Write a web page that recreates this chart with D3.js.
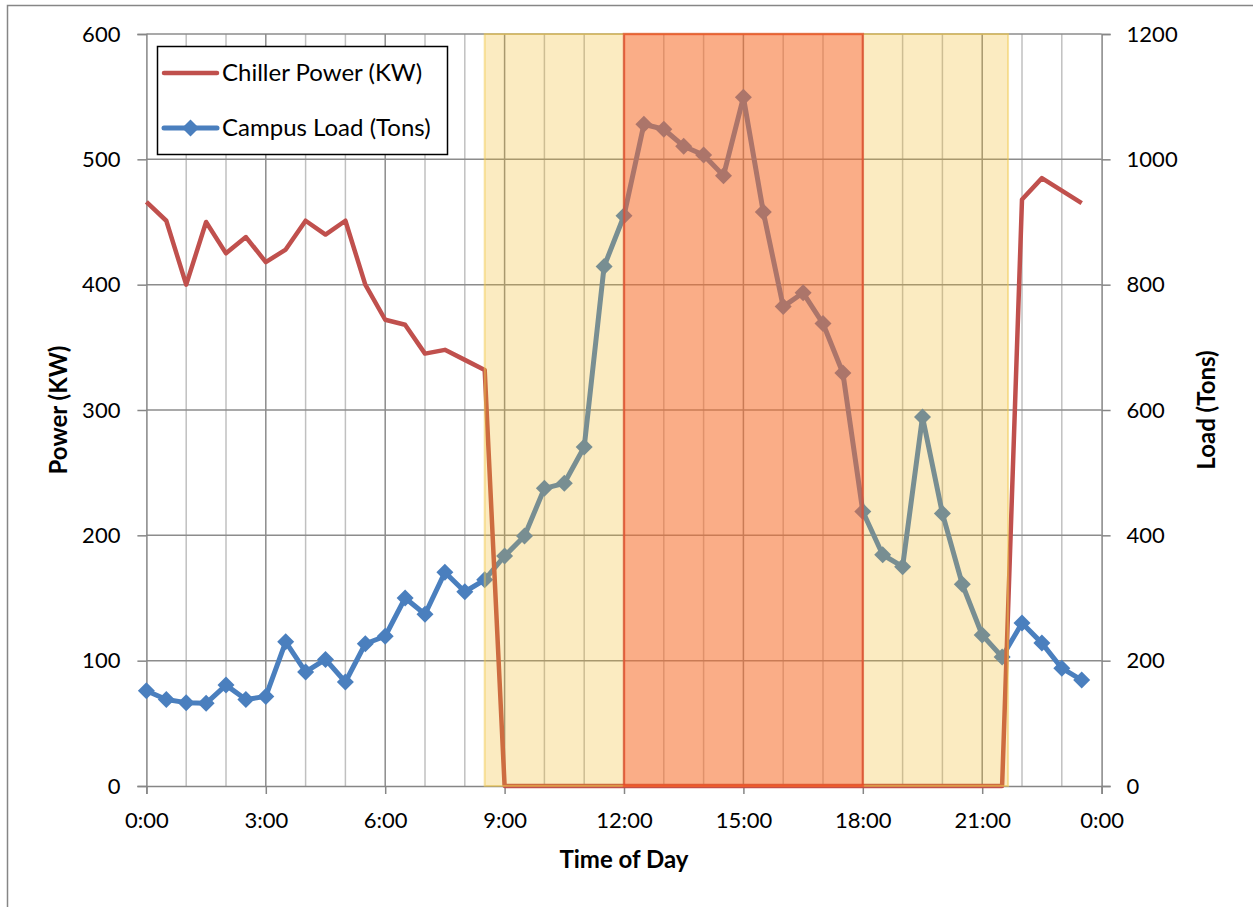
<!DOCTYPE html>
<html>
<head>
<meta charset="utf-8">
<script src="https://d3js.org/d3.v7.min.js"></script>
<style>
  body { margin: 0; background: #fff; }
  svg text { font-family: Lato, "Noto Sans", sans-serif; fill: #000; }
</style>
</head>
<body>
<svg id="chart"></svg>
<script>
// half-hour readings, hours since midnight
var hours = [0, 0.5, 1, 1.5, 2, 2.5, 3, 3.5, 4, 4.5, 5, 5.5,
             6, 6.5, 7, 7.5, 8, 8.5, 9, 9.5, 10, 10.5, 11, 11.5,
             12, 12.5, 13, 13.5, 14, 14.5, 15, 15.5, 16, 16.5, 17, 17.5,
             18, 18.5, 19, 19.5, 20, 20.5, 21, 21.5, 22, 22.5, 23, 23.5];

var chillerPower = [466, 451, 400, 450, 425, 438, 418, 428, 451, 440, 451, 400,
                    372, 368, 345, 348, 340, 332, 0, 0, 0, 0, 0, 0,
                    0, 0, 0, 0, 0, 0, 0, 0, 0, 0, 0, 0,
                    0, 0, 0, 0, 0, 0, 0, 0, 468, 485, 475, 465];

var campusLoad = [152, 138, 133, 132, 161, 138, 143, 230, 182, 202, 166, 227,
                  239, 300, 274, 341, 310, 329, 367, 399, 475, 483, 541, 829,
                  910, 1056, 1048, 1021, 1007, 974, 1099, 916, 765, 787, 738, 659,
                  438, 369, 350, 589, 435, 322, 241, 206, 260, 228, 188, 169];

var partPeak = [8.5, 21.65];   // yellow band
var onPeak = [12, 18];         // orange band

var xTicks = [0, 3, 6, 9, 12, 15, 18, 21, 24];
var powerTicks = [0, 100, 200, 300, 400, 500, 600];
var loadTicks = [0, 200, 400, 600, 800, 1000, 1200];

var seriesNames = ["Chiller Power (KW)", "Campus Load (Tons)"];

var w = 1253, h = 907;
var plotL = 146.4, plotR = 1101.6, plotT = 34, plotB = 786;

var svg = d3.select("#chart").attr("width", w).attr("height", h);

var x = d3.scaleLinear().domain([0, 24]).range([plotL, plotR]);
var yPow = d3.scaleLinear().domain([0, 600]).range([plotB, plotT]);
var yLoad = d3.scaleLinear().domain([0, 1200]).range([plotB, plotT]);

// outer chart border (only top/left fall inside the picture)
svg.append("rect")
    .attr("x", 7.5).attr("y", 5.5)
    .attr("width", 1400).attr("height", 1200)
    .attr("fill", "none").attr("stroke", "#868686").attr("stroke-width", 1.5);

// minor vertical gridlines every hour
var hourGrid = d3.range(1, 24);
svg.append("g").selectAll("line")
    .data(hourGrid.filter(function (d) { return d % 3 !== 0; }))
    .enter().append("line")
    .attr("x1", function (d) { return x(d); }).attr("x2", function (d) { return x(d); })
    .attr("y1", plotT).attr("y2", plotB)
    .attr("stroke", "#c0c0c0").attr("stroke-width", 1.5);

// major vertical gridlines
svg.append("g").selectAll("line")
    .data(xTicks.slice(1, -1))
    .enter().append("line")
    .attr("x1", function (d) { return x(d); }).attr("x2", function (d) { return x(d); })
    .attr("y1", plotT).attr("y2", plotB)
    .attr("stroke", "#8c8c8c").attr("stroke-width", 1.5);

// horizontal gridlines
svg.append("g").selectAll("line")
    .data(powerTicks.slice(1))
    .enter().append("line")
    .attr("x1", plotL).attr("x2", plotR)
    .attr("y1", function (d) { return yPow(d); }).attr("y2", function (d) { return yPow(d); })
    .attr("stroke", "#8c8c8c").attr("stroke-width", 1.5);

// axes
var axisLeft = svg.append("g")
    .attr("transform", "translate(" + plotL + ",0)")
    .call(d3.axisLeft(yPow).tickValues(powerTicks).tickSize(9).tickPadding(17));
var axisRight = svg.append("g")
    .attr("transform", "translate(" + plotR + ",0)")
    .call(d3.axisRight(yLoad).tickValues(loadTicks).tickSize(9).tickPadding(16)
        .tickFormat(d3.format("d")));
var axisBottom = svg.append("g")
    .attr("transform", "translate(0," + plotB + ")")
    .call(d3.axisBottom(x).tickValues(xTicks).tickSize(8).tickPadding(26)
        .tickFormat(function (d) { return (d % 24) + ":00"; }));

[axisLeft, axisRight, axisBottom].forEach(function (g) {
    g.select(".domain").attr("stroke", "#868686").attr("stroke-width", 1.5);
    g.selectAll(".tick line").attr("stroke", "#868686").attr("stroke-width", 1.5);
    g.selectAll(".tick text").attr("font-size", "22px").attr("font-family", "Lato").attr("fill", "#000");
});
axisBottom.selectAll(".tick text").attr("dy", "0.35em");

// series
var rows = hours.map(function (t, i) {
    return { t: t, power: chillerPower[i], load: campusLoad[i] };
});

var loadLine = d3.line()
    .x(function (d) { return x(d.t); })
    .y(function (d) { return yLoad(d.load); });
var powerLine = d3.line()
    .x(function (d) { return x(d.t); })
    .y(function (d) { return yPow(d.power); });

var diamond = "M0,-8.5L8.5,0L0,8.5L-8.5,0Z";

svg.append("path").datum(rows)
    .attr("d", loadLine)
    .attr("fill", "none").attr("stroke", "#4a7fbe").attr("stroke-width", 5)
    .attr("stroke-linejoin", "round");

svg.append("g").selectAll("path")
    .data(rows).enter().append("path")
    .attr("d", diamond)
    .attr("transform", function (d) { return "translate(" + x(d.t) + "," + yLoad(d.load) + ")"; })
    .attr("fill", "#4a7fbe");

svg.append("path").datum(rows)
    .attr("d", powerLine)
    .attr("fill", "none").attr("stroke", "#c0504d").attr("stroke-width", 4.5)
    .attr("stroke-linejoin", "round");

// shaded tariff periods laid over the data
svg.append("rect")
    .attr("x", x(partPeak[0])).attr("y", plotT)
    .attr("width", x(partPeak[1]) - x(partPeak[0])).attr("height", plotB - plotT)
    .attr("fill", "#f0b820").attr("fill-opacity", 0.28)
    .attr("stroke", "#f2c94c").attr("stroke-opacity", 0.5).attr("stroke-width", 2);

svg.append("rect")
    .attr("x", x(onPeak[0])).attr("y", plotT)
    .attr("width", x(onPeak[1]) - x(onPeak[0])).attr("height", plotB - plotT)
    .attr("fill", "#f95030").attr("fill-opacity", 0.4)
    .attr("stroke", "#f03a1c").attr("stroke-opacity", 0.55).attr("stroke-width", 2.5);

// axis titles
svg.append("text")
    .attr("transform", "translate(59," + ((plotT + plotB) / 2) + ")rotate(-90)")
    .attr("text-anchor", "middle").attr("dy", "0.35em")
    .attr("font-size", "24px").attr("font-weight", "bold")
    .text("Power (KW)");

svg.append("text")
    .attr("transform", "translate(1207," + ((plotT + plotB) / 2) + ")rotate(-90)")
    .attr("text-anchor", "middle").attr("dy", "0.35em")
    .attr("font-size", "24px").attr("font-weight", "bold")
    .text("Load (Tons)");

svg.append("text")
    .attr("x", (plotL + plotR) / 2).attr("y", 860)
    .attr("text-anchor", "middle").attr("dy", "0.35em")
    .attr("font-size", "24px").attr("font-weight", "bold")
    .text("Time of Day");

// legend
var legend = svg.append("g");
legend.append("rect")
    .attr("x", 157.5).attr("y", 46.5).attr("width", 290).attr("height", 108)
    .attr("fill", "#fff").attr("stroke", "#000").attr("stroke-width", 1.5);

legend.append("line")
    .attr("x1", 164).attr("x2", 217).attr("y1", 73).attr("y2", 73)
    .attr("stroke", "#c0504d").attr("stroke-width", 4.5).attr("stroke-linecap", "round");
legend.append("text")
    .attr("x", 222).attr("y", 73).attr("dy", "0.35em")
    .attr("font-size", "24px").text(seriesNames[0]);

legend.append("line")
    .attr("x1", 164).attr("x2", 217).attr("y1", 128).attr("y2", 128)
    .attr("stroke", "#4a7fbe").attr("stroke-width", 5).attr("stroke-linecap", "round");
legend.append("path")
    .attr("d", diamond)
    .attr("transform", "translate(190.5,128)")
    .attr("fill", "#4a7fbe");
legend.append("text")
    .attr("x", 222).attr("y", 128).attr("dy", "0.35em")
    .attr("font-size", "24px").text(seriesNames[1]);
</script>
</body>
</html>
